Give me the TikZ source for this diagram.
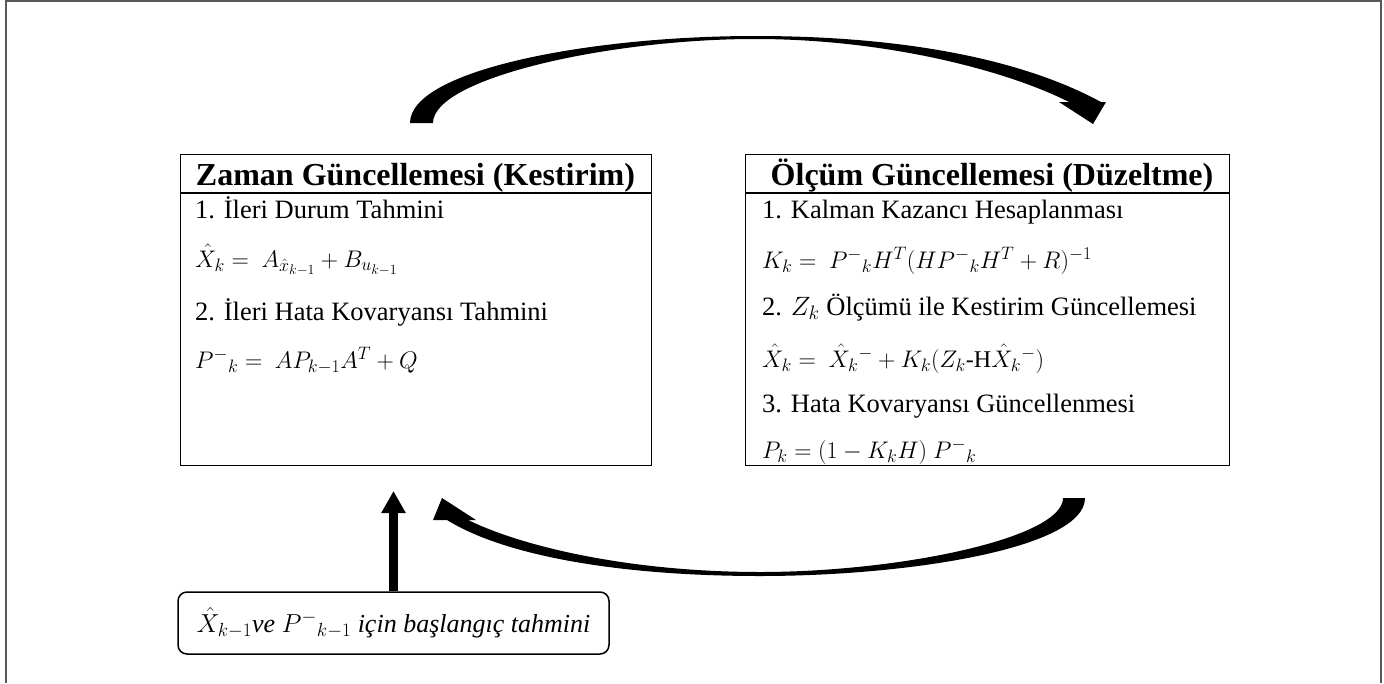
\documentclass[tikz,border=0pt]{standalone}
\usepackage{fix-cm}
\usepackage{fontspec}
\setmainfont{Liberation Serif}
\usetikzlibrary{arrows.meta}
% larger sub- and superscripts for the formulas
\DeclareMathSizes{24}{24}{18}{14}
\DeclareMathSizes{26}{26}{19}{15}
\DeclareMathSizes{26.5}{26.5}{19.5}{15}

\begin{document}
\begin{tikzpicture}[x=1pt,y=-1pt,
  box/.style={draw, line width=1.2pt, rectangle, inner sep=0pt, anchor=north west},
  head/.style={anchor=base, inner sep=0pt, font=\fontsize{32}{38}\selectfont\bfseries},
  body/.style={anchor=base west, inner sep=0pt, font=\fontsize{26.5}{32}\selectfont},
  eq/.style={anchor=base west, inner sep=0pt, font=\fontsize{24}{29}\selectfont},
  blockarrow/.style={fill=black, draw=none},
  frameline/.style={draw=black!65, line width=2pt},
  initbox/.style={draw, rounded corners=9pt, line width=1.5pt, inner sep=0pt,
    minimum width=431pt, minimum height=62pt, font=\fontsize{26}{31}\selectfont}]

\useasboundingbox (0,0) rectangle (1384,683);
\draw[frameline] (6,683) -- (6,1) -- (1381,1) -- (1381,683);

% time update box
\node[box, minimum width=471pt, minimum height=311pt] (zaman) at (180,154) {};
\draw[line width=1.2pt] ([yshift=-39pt]zaman.north west) -- ([yshift=-39pt]zaman.north east);
\node[head] (zt) at (415.5,185) {Zaman Güncellemesi (Kestirim)};
\node[body] (z1) at (195,218) {1. İleri Durum Tahmini};
\node[eq]   (z2) at (195,267) {$\hat{X}_k =\ A_{\hat{x}_{k-1}} + B_{u_{k-1}}$};
\node[body] (z3) at (195,320) {2. İleri Hata Kovaryansı Tahmini};
\node[eq]   (z4) at (195,368) {$P^{-}{}_{k} =\ AP_{k-1}A^{T} + Q$};

% measurement update box
\node[box, minimum width=484pt, minimum height=311pt] (olcum) at (745,154) {};
\draw[line width=1.2pt] ([yshift=-39pt]olcum.north west) -- ([yshift=-39pt]olcum.north east);
\node[head] (ot) at (992,185) {Ölçüm Güncellemesi (Düzeltme)};
\node[body] (o1) at (762,218) {1. Kalman Kazancı Hesaplanması};
\node[eq]   (o2) at (762,268) {$K_k =\ P^{-}{}_{k}H^{T}(HP^{-}{}_{k}H^{T} + R)^{-1}$};
\node[body] (o3) at (762,315) {2. $Z_k$ Ölçümü ile Kestirim Güncellemesi};
\node[eq]   (o4) at (762,367) {$\hat{X}_k =\ \hat{X}_k{}^{-} + K_k(Z_k\mbox{-H}\hat{X}_k{}^{-})$};
\node[body] (o5) at (762,412) {3. Hata Kovaryansı Güncellenmesi};
\node[eq]   (o6) at (762,458) {$P_k = (1 - K_kH)\ P^{-}{}_{k}$};

% initial estimate
\node[initbox] (init) at (393.5,623)
  {$\hat{X}_{k-1}$\textit{ve} $P^{-}{}_{k-1}$ \textit{için başlangıç tahmini}};
\coordinate (up) at (393.5,491);
\draw[line width=9pt, -{Triangle[length=22pt 0 0, width=23pt 0 0]}] (init.north) -- (up);

% curved block arrow: time update -> measurement update
\fill[blockarrow] (410,123) .. controls (410,70) and (590,36) .. (755,36)
  .. controls (900,36) and (1020,58) .. (1101,102) -- (1106,102) -- (1093,124)
  -- (1059,102) -- (1069,102) .. controls (1010,72) and (890,39) .. (755,39)
  .. controls (610,39) and (433,78) .. (433,123) -- cycle;

% curved block arrow: measurement update -> time update
\fill[blockarrow] (1085,498) .. controls (1085,548) and (910,576) .. (760,576)
  .. controls (620,576) and (505,556) .. (447,520) -- (433,520) -- (442,498)
  -- (476,520) -- (468,520) .. controls (530,550) and (640,572) .. (760,572)
  .. controls (900,572) and (1063,538) .. (1063,498) -- cycle;
\end{tikzpicture}
\end{document}
